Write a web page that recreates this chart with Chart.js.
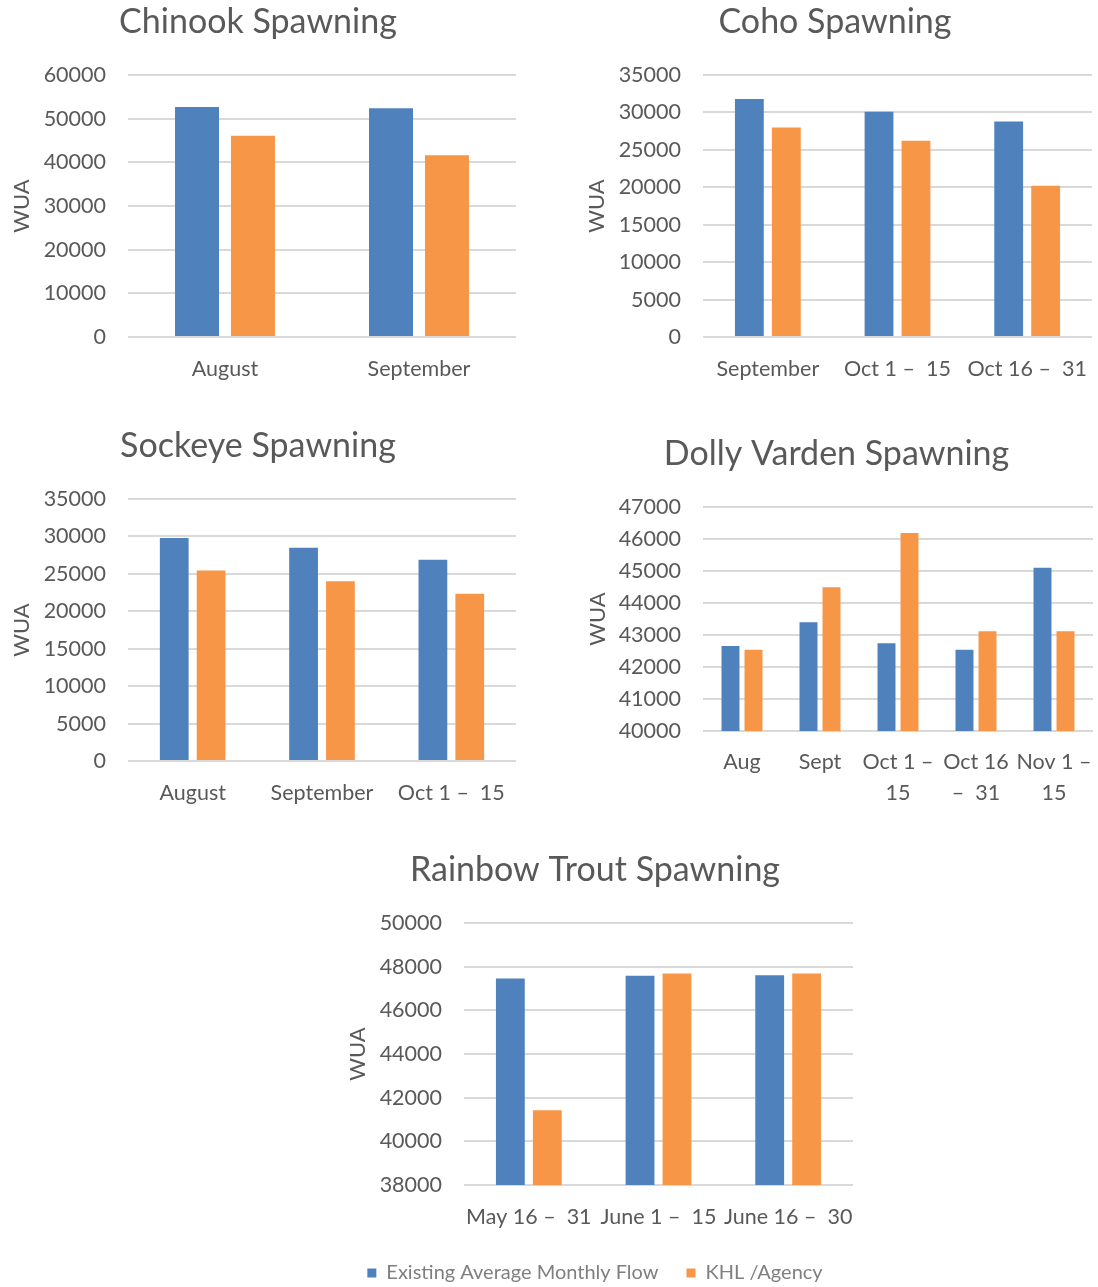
<!DOCTYPE html>
<html>
<head>
<meta charset="utf-8">
<script src="https://cdn.jsdelivr.net/npm/chart.js@4/dist/chart.umd.min.js"></script>
<style>
  html, body { margin: 0; padding: 0; background: #ffffff; }
  body { width: 1098px; height: 1287px; position: relative; overflow: hidden; }
  canvas { position: absolute; }
</style>
</head>
<body>
<canvas id="c1"></canvas>
<canvas id="c2"></canvas>
<canvas id="c3"></canvas>
<canvas id="c4"></canvas>
<canvas id="c5"></canvas>
<script>
// ---------- DATA ----------
const seriesNames = ['Existing Average Monthly Flow', 'KHL /Agency'];

const chinookTitle = 'Chinook Spawning';
const chinookCategories = ['August', 'September'];
const chinookExisting = [52700, 52400];
const chinookKHL = [46100, 41600];
const chinookTicks = [0, 60000, 10000];

const cohoTitle = 'Coho Spawning';
const cohoCategories = ['September', 'Oct 1 –  15', 'Oct 16 –  31'];
const cohoExisting = [31800, 30100, 28800];
const cohoKHL = [28000, 26200, 20200];
const cohoTicks = [0, 35000, 5000];

const sockeyeTitle = 'Sockeye Spawning';
const sockeyeCategories = ['August', 'September', 'Oct 1 –  15'];
const sockeyeExisting = [29800, 28500, 26900];
const sockeyeKHL = [25450, 24000, 22350];
const sockeyeTicks = [0, 35000, 5000];

const dollyTitle = 'Dolly Varden Spawning';
const dollyCategories = [['Aug'], ['Sept'], ['Oct 1 –', '15'], ['Oct 16', '–  31'], ['Nov 1 –', '15']];
const dollyExisting = [42660, 43400, 42740, 42540, 45100];
const dollyKHL = [42540, 44490, 46190, 43120, 43120];
const dollyTicks = [40000, 47000, 1000];

const rainbowTitle = 'Rainbow Trout Spawning';
const rainbowCategories = ['May 16 –  31', 'June 1 –  15', 'June 16 –  30'];
const rainbowExisting = [47460, 47580, 47610];
const rainbowKHL = [41420, 47690, 47690];
const rainbowTicks = [38000, 50000, 2000];

// ---------- STYLE ----------
const FONT = 'Lato, "Open Sans", sans-serif';
const TEXT = '#595959';
const BLUE = '#4f81bd';
const ORANGE = '#f79646';
const GRID = '#d9d9d9';

function build(id, g, title, cats, a, b, ticks, extra) {
  const cv = document.getElementById(id);
  cv.width = g.w; cv.height = g.h;
  cv.style.left = g.left + 'px'; cv.style.top = g.top + 'px';
  cv.style.width = g.w + 'px'; cv.style.height = g.h + 'px';
  extra = extra || {};
  return new Chart(cv, {
    type: 'bar',
    data: {
      labels: cats,
      datasets: [
        { label: seriesNames[0], data: a, backgroundColor: BLUE, borderWidth: 0,
          categoryPercentage: g.cat, barPercentage: g.bar },
        { label: seriesNames[1], data: b, backgroundColor: ORANGE, borderWidth: 0,
          categoryPercentage: g.cat, barPercentage: g.bar }
      ]
    },
    options: {
      responsive: false,
      animation: false,
      devicePixelRatio: 1,
      layout: { padding: { left: 0, right: g.padRight, top: 0, bottom: 0 } },
      plugins: {
        title: {
          display: true, text: title, color: TEXT,
          font: { family: FONT, size: 34, weight: 'normal', lineHeight: 1.2 },
          padding: { top: 1.6, bottom: 32.6 }
        },
        legend: extra.legend ? {
          display: true, position: 'bottom',
          labels: {
            color: '#7f7f7f', boxWidth: 9, boxHeight: 9, padding: 28,
            font: { family: FONT, size: 20 }
          }
        } : { display: false },
        tooltip: { enabled: false }
      },
      scales: {
        x: {
          grid: { display: false, drawTicks: false },
          border: { display: false },
          ticks: {
            color: TEXT, autoSkip: false, maxRotation: 0, minRotation: 0,
            padding: g.xPad,
            font: { family: FONT, size: 21.5, lineHeight: 1.45 }
          },
          afterFit: (s) => { s.height = g.xH; s.paddingLeft = 0; s.paddingRight = 0; }
        },
        y: {
          min: ticks[0], max: ticks[1],
          grid: { color: GRID, lineWidth: 2, drawTicks: false },
          border: { display: false },
          ticks: {
            stepSize: ticks[2], color: TEXT, padding: 22,
            font: { family: FONT, size: 21.5 },
            callback: (v) => String(v)
          },
          title: {
            display: true, text: 'WUA', color: TEXT,
            font: { family: FONT, size: 22, lineHeight: 1.2 },
            padding: { top: g.yTitlePad, bottom: 0 }
          },
          afterFit: (s) => { s.width = g.yW; }
        }
      }
    }
  });
}

build('c1', { left: 0, top: 0, w: 520, h: 387, padRight: 4, yW: 128, xH: 50, xPad: 16, yTitlePad: 9, cat: 0.577, bar: 0.786 },
  chinookTitle, chinookCategories, chinookExisting, chinookKHL, chinookTicks);

build('c2', { left: 578, top: 0, w: 520, h: 387, padRight: 6, yW: 125, xH: 50, xPad: 16, yTitlePad: 6, cat: 0.57, bar: 0.78 },
  cohoTitle, cohoCategories, cohoExisting, cohoKHL, cohoTicks);

build('c3', { left: 0, top: 424, w: 520, h: 387, padRight: 4, yW: 128, xH: 50, xPad: 16, yTitlePad: 9, cat: 0.57, bar: 0.78 },
  sockeyeTitle, sockeyeCategories, sockeyeExisting, sockeyeKHL, sockeyeTicks);

build('c4', { left: 580, top: 432, w: 518, h: 379, padRight: 5, yW: 123, xH: 80, xPad: 15, yTitlePad: 5, cat: 0.59, bar: 0.78 },
  dollyTitle, dollyCategories, dollyExisting, dollyKHL, dollyTicks);

build('c5', { left: 337, top: 848, w: 521, h: 445, padRight: 5, yW: 127, xH: 50, xPad: 16, yTitlePad: 8, cat: 0.57, bar: 0.78 },
  rainbowTitle, rainbowCategories, rainbowExisting, rainbowKHL, rainbowTicks, { legend: true });
</script>
</body>
</html>
